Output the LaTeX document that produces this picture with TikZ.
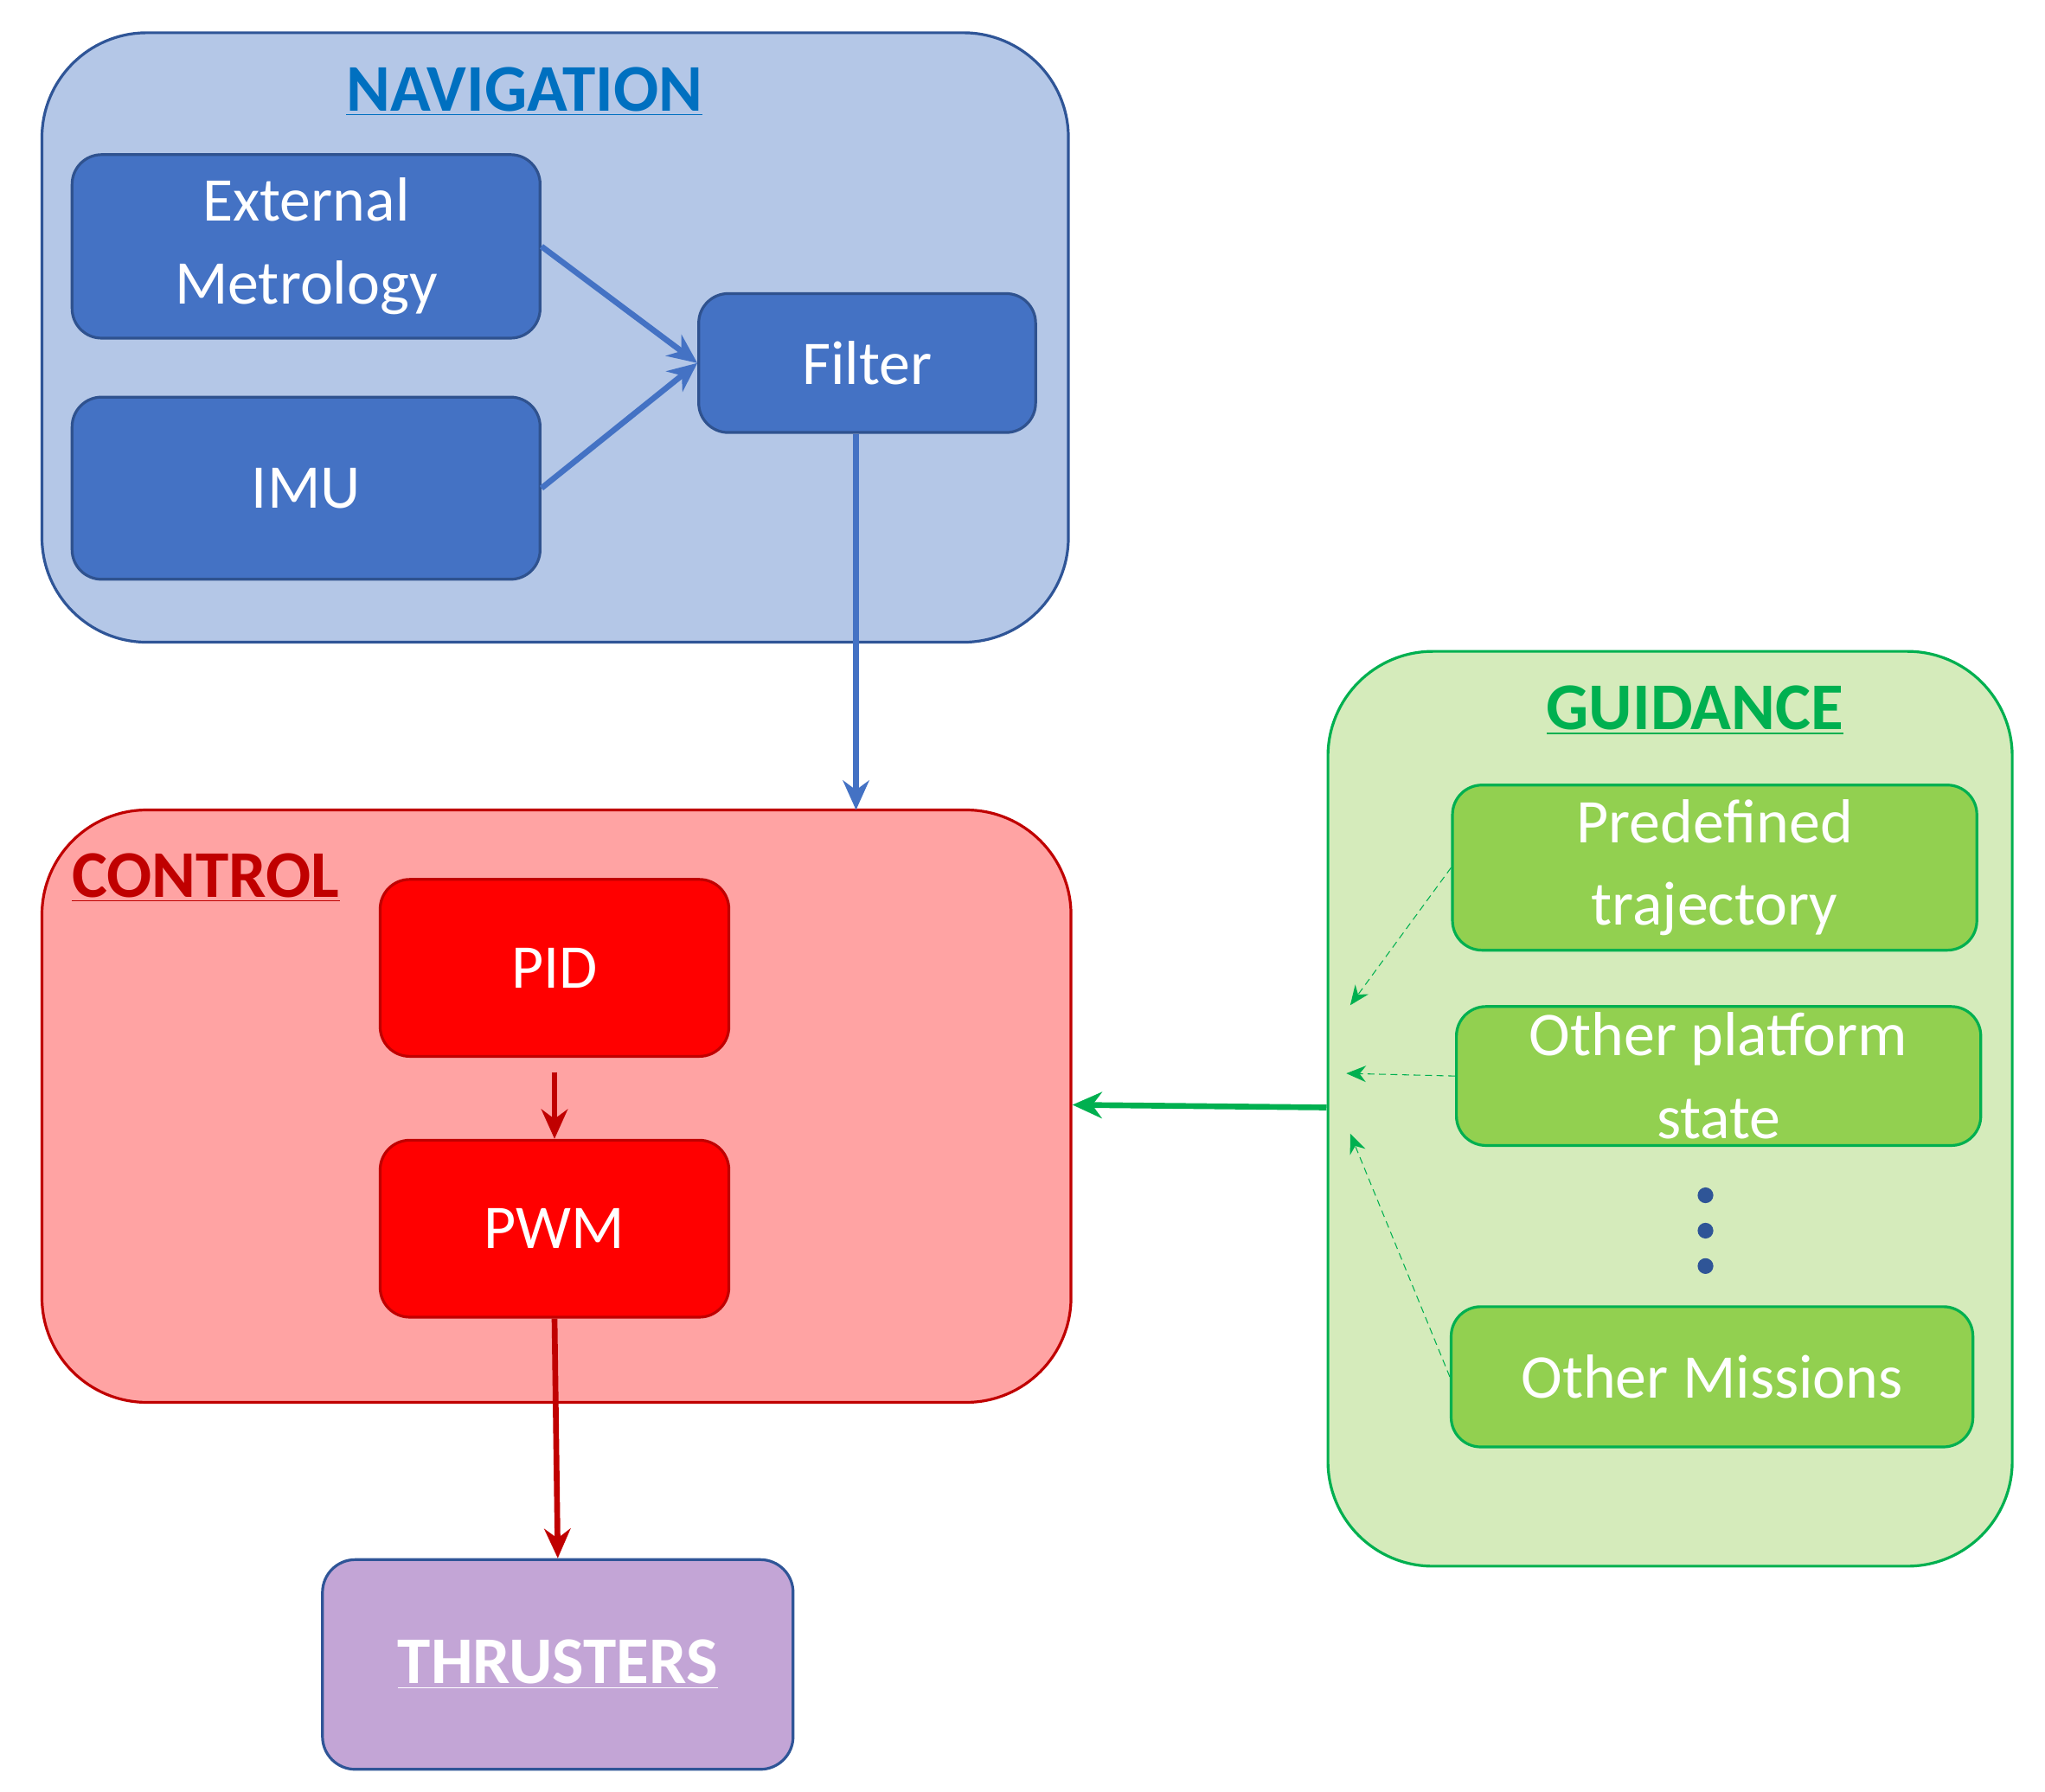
\documentclass[tikz,border=0pt]{standalone}
\usepackage{fontspec}
\setmainfont{Carlito}
\usetikzlibrary{arrows.meta}
\definecolor{navfill}{HTML}{B4C7E7}
\definecolor{navline}{HTML}{2F5597}
\definecolor{navtitle}{HTML}{0070C0}
\definecolor{blk}{HTML}{4472C4}
\definecolor{blkline}{HTML}{2F528F}
\definecolor{ctlfill}{HTML}{FFA3A3}
\definecolor{dred}{HTML}{C00000}
\definecolor{gfill}{HTML}{D5EBBB}
\definecolor{gline}{HTML}{00B050}
\definecolor{gblk}{HTML}{92D050}
\definecolor{thr}{HTML}{C3A5D6}
\tikzset{
  big/.style={rounded corners=1.6cm, line width=1.2pt},
  inner/.style={rounded corners=0.45cm, line width=1.2pt, text=white, align=center, font=\fontsize{27}{36}\selectfont, inner sep=0pt},
  title/.style={font=\fontsize{29}{32}\selectfont\bfseries},
}
\begin{document}
\begin{tikzpicture}
\useasboundingbox (0,0) rectangle (31.2,-27.34);
% big boxes
\node[big, draw=navline, fill=navfill, minimum width=15.66cm, minimum height=9.3cm] (nav) at (8.47,-5.15) {};
\node[big, draw=dred, fill=ctlfill, minimum width=15.7cm, minimum height=9.04cm] (ctl) at (8.49,-16.88) {};
\node[big, draw=gline, fill=gfill, minimum width=10.44cm, minimum height=13.96cm] (gui) at (25.48,-16.92) {};
\node[inner, rounded corners=0.5cm, draw=navline, fill=thr, minimum width=7.18cm, minimum height=3.2cm, font=\fontsize{29}{32}\selectfont\bfseries] (thr) at (8.51,-25.4) {\underline{THRUSTERS}};
% titles
\node[title, text=navtitle] (navt) at (8.0,-1.4) {\underline{NAVIGATION}};
\node[title, text=dred] (ctlt) at (3.14,-13.4) {\underline{CONTROL}};
\node[title, text=gline] (guit) at (25.86,-10.84) {\underline{GUIDANCE}};
% navigation blocks
\node[inner, draw=blkline, fill=blk, minimum width=7.14cm, minimum height=2.8cm] (ext) at (4.67,-3.76) {External\\Metrology};
\node[inner, draw=blkline, fill=blk, minimum width=7.14cm, minimum height=2.78cm] (imu) at (4.67,-7.45) {IMU};
\node[inner, draw=blkline, fill=blk, minimum width=5.14cm, minimum height=2.12cm] (fil) at (13.23,-5.54) {Filter};
% control blocks
\node[inner, draw=dred, fill=red, minimum width=5.32cm, minimum height=2.7cm] (pid) at (8.46,-14.77) {PID};
\node[inner, draw=dred, fill=red, minimum width=5.32cm, minimum height=2.7cm] (pwm) at (8.46,-18.75) {PWM};
% guidance blocks
\node[inner, draw=gline, fill=gblk, minimum width=8.0cm, minimum height=2.52cm] (pre) at (26.16,-13.24) {Predefined\\trajectory};
\node[inner, draw=gline, fill=gblk, minimum width=8.0cm, minimum height=2.12cm] (oth) at (26.22,-16.42) {Other platform\\state};
\node[inner, draw=gline, fill=gblk, minimum width=7.96cm, minimum height=2.14cm] (mis) at (26.12,-21.01) {Other Missions};
\foreach \y/\n in {18.24/d1,18.78/d2,19.32/d3} \fill[navline] (26.02,-\y) circle (0.12) coordinate (\n);
% arrows
\draw[blk, line width=2.5pt, -{Stealth[length=0.45cm,width=0.4cm]}] (ext.east) -- (fil.west);
\draw[blk, line width=2.5pt, -{Stealth[length=0.45cm,width=0.4cm]}] (imu.east) -- (fil.west);
\coordinate (ctltop) at (13.06,-12.36);
\draw[blk, line width=2.5pt, -{Stealth[length=0.45cm,width=0.4cm]}] (fil.south -| ctltop) -- (ctltop);
\draw[dred, line width=2.5pt, -{Stealth[length=0.45cm,width=0.4cm]}] ([yshift=-0.22cm]pid.south) -- (pwm.north);
\draw[dred, line width=2.5pt, -{Stealth[length=0.45cm,width=0.4cm]}] (pwm.south) -- (thr.north);
\draw[gline, line width=2.5pt, -{Stealth[length=0.45cm,width=0.4cm]}] (gui.west |- 0,-16.9) -- (ctl.east |- 0,-16.86);
\coordinate (g1) at (20.6,-15.34);
\coordinate (g2) at (20.54,-16.38);
\coordinate (g3) at (20.6,-17.3);
\draw[gline, densely dashed, thin, -{Stealth[length=0.3cm,width=0.25cm]}] (pre.west) -- (g1);
\draw[gline, densely dashed, thin, -{Stealth[length=0.3cm,width=0.25cm]}] (oth.west) -- (g2);
\draw[gline, densely dashed, thin, -{Stealth[length=0.3cm,width=0.25cm]}] (mis.west) -- (g3);
\end{tikzpicture}
\end{document}
